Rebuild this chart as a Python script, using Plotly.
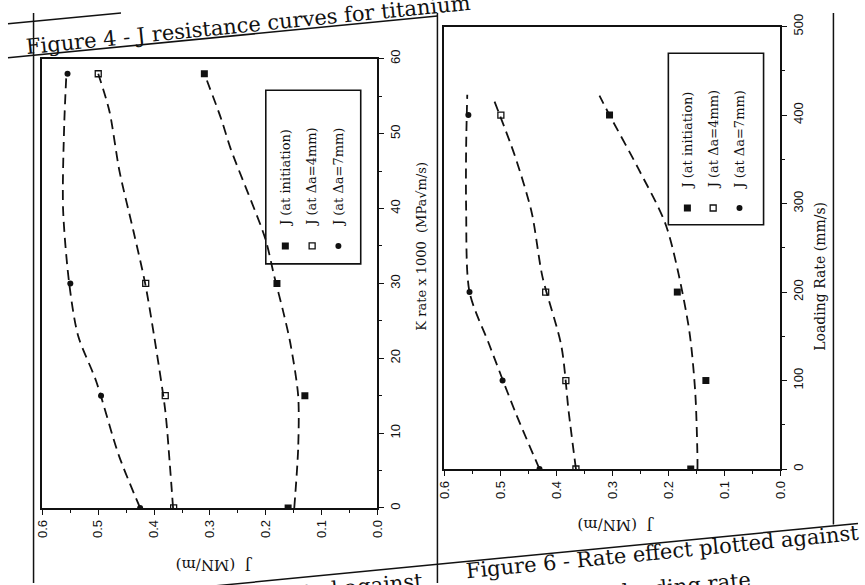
import plotly.graph_objects as go

W, H = 865, 585

# ---------------- data ----------------
series_names = ["J (at initiation)", "J (at \u0394a=4mm)", "J (at \u0394a=7mm)"]

# Figure 4 (left): J versus K rate x 1000
k_rate = [0, 15, 30, 58]
j_init_k = [0.16, 0.13, 0.18, 0.31]
j_4mm_k = [0.365, 0.38, 0.415, 0.50]
j_7mm_k = [0.425, 0.495, 0.55, 0.555]

# dashed trend curves (left)
fit_init_k_x = [0, 8, 15, 22, 26, 31, 36, 48, 52, 58]
fit_init_k_j = [0.149, 0.142, 0.142, 0.156, 0.168, 0.185, 0.201, 0.263, 0.28, 0.31]
fit_4mm_k_x = [0, 6, 13, 23, 30, 37, 45, 53, 58]
fit_4mm_k_j = [0.366, 0.372, 0.38, 0.40, 0.416, 0.437, 0.462, 0.48, 0.50]
fit_7mm_k_x = [0, 7, 17, 23, 30, 40, 51, 58]
fit_7mm_k_j = [0.425, 0.463, 0.504, 0.536, 0.552, 0.563, 0.561, 0.557]

# Figure 6 (right): J versus loading rate
load_rate = [0, 100, 200, 400]
j_init_l = [0.16, 0.133, 0.184, 0.305]
j_4mm_l = [0.365, 0.383, 0.419, 0.499]
j_7mm_l = [0.43, 0.496, 0.555, 0.557]

# dashed trend curves (right)
fit_init_l_x = [0, 12, 87, 162, 275, 340, 400, 422]
fit_init_l_j = [0.148, 0.148, 0.152, 0.164, 0.204, 0.254, 0.305, 0.323]
fit_4mm_l_x = [0, 65, 139, 218, 290, 354, 418]
fit_4mm_l_j = [0.365, 0.378, 0.391, 0.425, 0.444, 0.474, 0.512]
fit_7mm_l_x = [0, 64, 141, 200, 294, 364, 423]
fit_7mm_l_j = [0.43, 0.473, 0.52, 0.555, 0.561, 0.561, 0.559]

# legend key positions (data units of each panel)
legend_key_j_left = [0.165, 0.117, 0.07]
legend_key_k_left = 35
legend_key_j_right = [0.166, 0.12, 0.073]
legend_key_l_right = 295

INK = "#111111"
SERIF = "DejaVu Serif"
SANS = "Liberation Sans"

def fx(x):
    return x / W

def fy(y):
    return 1 - y / H

fig = go.Figure()

marker_styles = [
    dict(symbol="square", size=7, color=INK),
    dict(symbol="square-open", size=6, color=INK, line=dict(width=1.3, color=INK)),
    dict(symbol="circle", size=6, color=INK),
]

def add_panel(sfx, xs, js_list, fits):
    xa = "x" + sfx
    ya = "y" + sfx
    for (fx_, fj_) in fits:
        fig.add_trace(go.Scatter(x=fj_, y=fx_, mode="lines", xaxis=xa, yaxis=ya,
                                 line=dict(color=INK, width=1.8, dash="10px,6px",
                                           shape="spline", smoothing=0.8),
                                 hoverinfo="skip", showlegend=False))
    for js, ms, nm in zip(js_list, marker_styles, series_names):
        fig.add_trace(go.Scatter(x=js, y=xs, mode="markers", xaxis=xa, yaxis=ya,
                                 marker=ms, name=nm, showlegend=False))

add_panel("", k_rate, [j_init_k, j_4mm_k, j_7mm_k],
          [(fit_init_k_x, fit_init_k_j), (fit_4mm_k_x, fit_4mm_k_j), (fit_7mm_k_x, fit_7mm_k_j)])
add_panel("2", load_rate, [j_init_l, j_4mm_l, j_7mm_l],
          [(fit_init_l_x, fit_init_l_j), (fit_4mm_l_x, fit_4mm_l_j), (fit_7mm_l_x, fit_7mm_l_j)])

# legend keys
for jx, ms in zip(legend_key_j_left, marker_styles):
    fig.add_trace(go.Scatter(x=[jx], y=[legend_key_k_left], mode="markers", xaxis="x", yaxis="y",
                             marker=ms, hoverinfo="skip", showlegend=False))
for jx, ms in zip(legend_key_j_right, marker_styles):
    fig.add_trace(go.Scatter(x=[jx], y=[legend_key_l_right], mode="markers", xaxis="x2", yaxis="y2",
                             marker=ms, hoverinfo="skip", showlegend=False))

tickfont = dict(family=SANS, size=13, color=INK)
j_axis = dict(range=[0.6, 0.0], dtick=0.1, tick0=0, tickformat=".1f", tickangle=-90,
              ticks="outside", ticklen=5, tickwidth=1.3, tickcolor=INK,
              minor=dict(dtick=0.05, ticks="outside", ticklen=3, tickcolor=INK),
              showline=True, linewidth=1.6, linecolor=INK, mirror=True,
              showgrid=False, zeroline=False, tickfont=tickfont, fixedrange=True)

fig.update_layout(
    width=W, height=H,
    margin=dict(l=0, r=0, t=0, b=0),
    paper_bgcolor="white", plot_bgcolor="white",
    showlegend=False,
    xaxis=dict(domain=[fx(35), fx(376)], anchor="y", **j_axis),
    yaxis=dict(domain=[fy(508), fy(47)], anchor="x", side="right", range=[0, 60], dtick=10,
               tickangle=-90, ticks="outside", ticklen=5, tickwidth=1.3, tickcolor=INK,
               minor=dict(dtick=5, ticks="outside", ticklen=3, tickcolor=INK),
               showline=True, linewidth=1.6, linecolor=INK, mirror=True,
               showgrid=False, zeroline=False, tickfont=tickfont, fixedrange=True),
    xaxis2=dict(domain=[fx(444), fx(786)], anchor="y2", **j_axis),
    yaxis2=dict(domain=[fy(468), fy(14)], anchor="x2", side="right", range=[0, 500], dtick=100,
                tickangle=-90, ticks="outside", ticklen=5, tickwidth=1.3, tickcolor=INK,
                minor=dict(dtick=50, ticks="outside", ticklen=3, tickcolor=INK),
                showline=True, linewidth=1.6, linecolor=INK, mirror=True,
                showgrid=False, zeroline=False, tickfont=tickfont, fixedrange=True),
)

shapes = []
# legend boxes (in panel data units)
shapes.append(dict(type="rect", xref="x", yref="y", x0=0.20, x1=0.03, y0=32.6, y1=55.8,
                   line=dict(color=INK, width=1.6), fillcolor="rgba(0,0,0,0)"))
shapes.append(dict(type="rect", xref="x2", yref="y2", x0=0.20, x1=0.03, y0=276, y1=470,
                   line=dict(color=INK, width=1.6), fillcolor="rgba(0,0,0,0)"))

def pline(x0, y0, x1, y1, w=1.5):
    shapes.append(dict(type="line", xref="paper", yref="paper",
                       x0=fx(x0), y0=fy(y0), x1=fx(x1), y1=fy(y1),
                       line=dict(color=INK, width=w)))

# table rules of the scanned page
pline(0, 11, 115, 0)          # top border
pline(0, 46, 437, 3)          # rule under the Figure 4 caption
pline(26, 0, 26, 585)         # left border
pline(437, 0, 437, 585)       # column divider
pline(840, 0, 840, 525)       # right border
pline(200, 589, 865, 524)     # rule above the lower captions
fig.update_layout(shapes=shapes)

ann = []
legend_font = dict(family=SERIF, size=13, color=INK)
for jx, nm in zip(legend_key_j_left, series_names):
    ann.append(dict(x=jx, y=37.3, xref="x", yref="y", text=nm, textangle=-90, showarrow=False,
                    xanchor="center", yanchor="bottom", font=legend_font))
for jx, nm in zip(legend_key_j_right, series_names):
    ann.append(dict(x=jx, y=314, xref="x2", yref="y2", text=nm, textangle=-90, showarrow=False,
                    xanchor="center", yanchor="bottom", font=legend_font))

# axis titles
ann.append(dict(x=fx(421), y=35, xref="paper", yref="y", text="K rate x 1000  (MPa\u221am/s)",
                textangle=-90, showarrow=False, xanchor="center", yanchor="middle",
                font=dict(family=SERIF, size=13, color=INK)))
ann.append(dict(x=fx(826), y=218, xref="paper", yref="y2", text="Loading Rate (mm/s)",
                textangle=-90, showarrow=False, xanchor="center", yanchor="middle",
                font=dict(family=SERIF, size=14, color=INK)))
ann.append(dict(x=0.293, y=fy(566), xref="x", yref="paper", text="J  (MN/m)",
                textangle=180, showarrow=False, xanchor="center", yanchor="middle",
                font=dict(family=SERIF, size=15, color=INK)))
ann.append(dict(x=0.293, y=fy(526), xref="x2", yref="paper", text="J  (MN/m)",
                textangle=180, showarrow=False, xanchor="center", yanchor="middle",
                font=dict(family=SERIF, size=15, color=INK)))

# captions of the scanned page
cap_font = dict(family=SERIF, size=21, color=INK)
ann.append(dict(x=fx(244), y=fy(12), xref="paper", yref="paper",
                text="Figure 4 - J resistance curves for titanium", textangle=-5.7,
                showarrow=False, xanchor="center", yanchor="middle", font=cap_font))
ann.append(dict(x=fx(666), y=fy(553), xref="paper", yref="paper",
                text="Figure 6 - Rate effect plotted against", textangle=-5.6,
                showarrow=False, xanchor="center", yanchor="middle", font=cap_font))
ann.append(dict(x=fx(690), y=fy(588), xref="paper", yref="paper",
                text="loading rate", textangle=-5.6,
                showarrow=False, xanchor="center", yanchor="middle", font=cap_font))
ann.append(dict(x=fx(222), y=fy(602), xref="paper", yref="paper",
                text="Figure 5 - Rate effect plotted against", textangle=-5.6,
                showarrow=False, xanchor="center", yanchor="middle", font=cap_font))
fig.update_layout(annotations=ann)

fig.write_html("out.html", config={"displayModeBar": False},
               post_script="document.body.style.margin='0px';document.body.style.overflow='hidden';")
